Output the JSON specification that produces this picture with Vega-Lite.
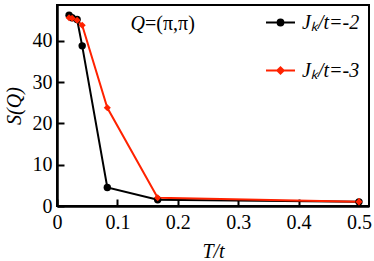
{
  "$schema": "https://vega.github.io/schema/vega-lite/v6.json",
  "autosize": "none",
  "width": 312,
  "height": 201,
  "padding": {"left": 57, "top": 5, "right": 5, "bottom": 55},
  "background": "white",
  "config": {
    "view": {"stroke": "black", "strokeWidth": 2},
    "font": "'Liberation Serif', 'Times New Roman', Times, serif",
    "axis": {
      "grid": false,
      "domainColor": "black",
      "domainWidth": 2.5,
      "tickColor": "black",
      "tickWidth": 2,
      "labelFont": "'Liberation Serif', 'Times New Roman', Times, serif",
      "labelFontSize": 20,
      "labelColor": "black",
      "titleFont": "'Liberation Serif', 'Times New Roman', Times, serif",
      "titleFontSize": 20,
      "titleFontStyle": "italic",
      "titleFontWeight": "normal",
      "titleColor": "black"
    }
  },
  "datasets": {
    "sq": [
      {"T": 0.02, "S": 46.2, "series": "Jₖ/t=-2"},
      {"T": 0.025, "S": 45.6, "series": "Jₖ/t=-2"},
      {"T": 0.0333, "S": 45.2, "series": "Jₖ/t=-2"},
      {"T": 0.0417, "S": 38.8, "series": "Jₖ/t=-2"},
      {"T": 0.0833, "S": 4.5, "series": "Jₖ/t=-2"},
      {"T": 0.1667, "S": 1.5, "series": "Jₖ/t=-2"},
      {"T": 0.5, "S": 1.0, "series": "Jₖ/t=-2"},
      {"T": 0.02, "S": 45.6, "series": "Jₖ/t=-3"},
      {"T": 0.025, "S": 45.5, "series": "Jₖ/t=-3"},
      {"T": 0.0333, "S": 45.0, "series": "Jₖ/t=-3"},
      {"T": 0.0417, "S": 43.8, "series": "Jₖ/t=-3"},
      {"T": 0.0833, "S": 23.8, "series": "Jₖ/t=-3"},
      {"T": 0.1667, "S": 2.0, "series": "Jₖ/t=-3"},
      {"T": 0.5, "S": 1.0, "series": "Jₖ/t=-3"}
    ],
    "err": [
      {"T": 0.5, "lo": 0.3, "hi": 1.9}
    ],
    "ann": [
      {"T": 0.1457, "S": 44.0, "a": "Q", "b": "=(π,π)"}
    ]
  },
  "layer": [
    {
      "data": {"name": "sq"},
      "mark": {"type": "line", "strokeWidth": 2},
      "encoding": {
        "x": {
          "field": "T", "type": "quantitative",
          "scale": {"domain": [0, 0.5166], "nice": false, "zero": false},
          "axis": {
            "title": "T/t",
            "values": [0, 0.05, 0.1, 0.15, 0.2, 0.25, 0.3, 0.35, 0.4, 0.45, 0.5],
            "labelExpr": "(datum.value*20)%2 < 0.5 ? (datum.value == 0 ? '0' : format(datum.value, '.1f')) : ''",
            "tickSize": -7,
            "labelPadding": 13,
            "titlePadding": 9,
            "labelFlush": false
          }
        },
        "y": {
          "field": "S", "type": "quantitative",
          "scale": {"domain": [0, 48.7], "nice": false},
          "axis": {
            "title": "S(Q)",
            "values": [0, 5, 10, 15, 20, 25, 30, 35, 40, 45],
            "labelExpr": "datum.value % 10 == 0 ? datum.label : ''",
            "tickSize": -7,
            "labelPadding": 12,
            "titlePadding": 8,
            "labelFlush": false
          }
        },
        "color": {
          "field": "series", "type": "nominal",
          "scale": {"domain": ["Jₖ/t=-2", "Jₖ/t=-3"], "range": ["black", "#ff2200"]},
          "legend": {
            "title": null,
            "orient": "none",
            "legendX": 208,
            "legendY": 2,
            "symbolType": "M-1,0H1M-0.2,0A0.2,0.2,0,1,1,0.2,0A0.2,0.2,0,1,1,-0.2,0Z",
            "symbolSize": 841,
            "symbolStrokeWidth": 2,
            "labelFont": "'Liberation Serif', 'Times New Roman', Times, serif",
            "labelFontSize": 20,
            "labelFontStyle": "italic",
            "labelColor": "black",
            "labelOffset": 6,
            "rowPadding": 22,
            "labelLimit": 200,
            "encode": {
              "symbols": {
                "update": {
                  "fill": {"scale": "color", "field": "value"},
                  "stroke": {"scale": "color", "field": "value"},
                  "strokeWidth": {"value": 2},
                  "shape": {"signal": "datum.value == 'Jₖ/t=-2' ? 'M-1,0H1M-0.2,0A0.2,0.2,0,1,1,0.2,0A0.2,0.2,0,1,1,-0.2,0Z' : 'M-1,0H1M-0.22,0L0,-0.22L0.22,0L0,0.22Z'"}
                }
              }
            }
          }
        },
        "order": {"field": "T", "type": "quantitative"}
      }
    },
    {
      "data": {"name": "sq"},
      "transform": [{"filter": "datum.series == 'Jₖ/t=-2'"}],
      "mark": {"type": "point", "filled": true, "opacity": 1, "shape": "circle", "size": 55},
      "encoding": {
        "x": {"field": "T", "type": "quantitative"},
        "y": {"field": "S", "type": "quantitative"},
        "color": {"field": "series", "type": "nominal"}
      }
    },
    {
      "data": {"name": "sq"},
      "transform": [{"filter": "datum.series == 'Jₖ/t=-3'"}],
      "mark": {"type": "point", "filled": true, "opacity": 1, "shape": "diamond", "size": 50},
      "encoding": {
        "x": {"field": "T", "type": "quantitative"},
        "y": {"field": "S", "type": "quantitative"},
        "color": {"field": "series", "type": "nominal"}
      }
    },
    {
      "data": {"name": "err"},
      "mark": {"type": "rule", "color": "#ff2200", "strokeWidth": 1.5},
      "encoding": {
        "x": {"field": "T", "type": "quantitative"},
        "y": {"field": "lo", "type": "quantitative"},
        "y2": {"field": "hi"}
      }
    },
    {
      "data": {"name": "ann"},
      "mark": {"type": "text", "align": "right", "baseline": "middle", "font": "'Liberation Serif', 'Times New Roman', Times, serif", "fontSize": 20, "fontStyle": "italic", "color": "black"},
      "encoding": {
        "x": {"field": "T", "type": "quantitative"},
        "y": {"field": "S", "type": "quantitative"},
        "text": {"field": "a"}
      }
    },
    {
      "data": {"name": "ann"},
      "mark": {"type": "text", "align": "left", "baseline": "middle", "font": "'Liberation Serif', 'Times New Roman', Times, serif", "fontSize": 20, "color": "black"},
      "encoding": {
        "x": {"field": "T", "type": "quantitative"},
        "y": {"field": "S", "type": "quantitative"},
        "text": {"field": "b"}
      }
    }
  ]
}
